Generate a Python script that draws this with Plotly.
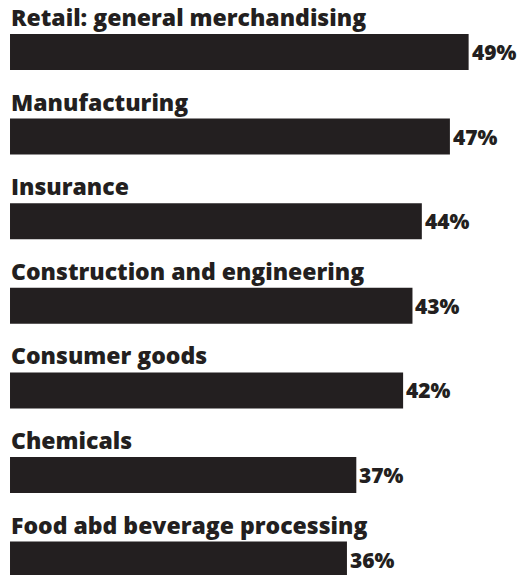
import plotly.graph_objects as go

# Share of firms by industry
industries = [
    "Retail: general merchandising",
    "Manufacturing",
    "Insurance",
    "Construction and engineering",
    "Consumer goods",
    "Chemicals",
    "Food abd beverage processing",
]
shares = [49, 47, 44, 43, 42, 37, 36]
value_labels = [f"{v}%" for v in shares]

INK = "#231f20"
FONT = "Open Sans"

rows = list(range(len(industries)))
bar_w = 0.4255

fig = go.Figure(
    go.Bar(
        x=shares,
        y=rows,
        orientation="h",
        width=bar_w,
        marker=dict(color=INK, line=dict(width=0)),
        hoverinfo="skip",
    )
)

annotations = []
for i, (name, v, lab) in enumerate(zip(industries, shares, value_labels)):
    # industry name sits above its bar
    annotations.append(dict(
        x=0, y=i - bar_w / 2, xref="x", yref="y",
        text=name, showarrow=False,
        xanchor="left", yanchor="bottom", yshift=-1, xshift=-1,
        font=dict(family=FONT, size=23, color=INK, weight=800),
    ))
    # value at the end of the bar
    annotations.append(dict(
        x=v, y=i, xref="x", yref="y",
        text=lab, showarrow=False,
        xanchor="left", yanchor="middle", xshift=1,
        font=dict(family=FONT, size=21, color=INK, weight=800),
    ))

fig.update_layout(
    width=526, height=575,
    margin=dict(l=0, r=0, t=0, b=0),
    paper_bgcolor="white", plot_bgcolor="white",
    showlegend=False,
    annotations=annotations,
    xaxis=dict(range=[-1.07, 55.13], visible=False, fixedrange=True),
    yaxis=dict(range=[6.182, -0.614], visible=False, fixedrange=True),
)

fig.write_html("out.html", config={"displayModeBar": False})
